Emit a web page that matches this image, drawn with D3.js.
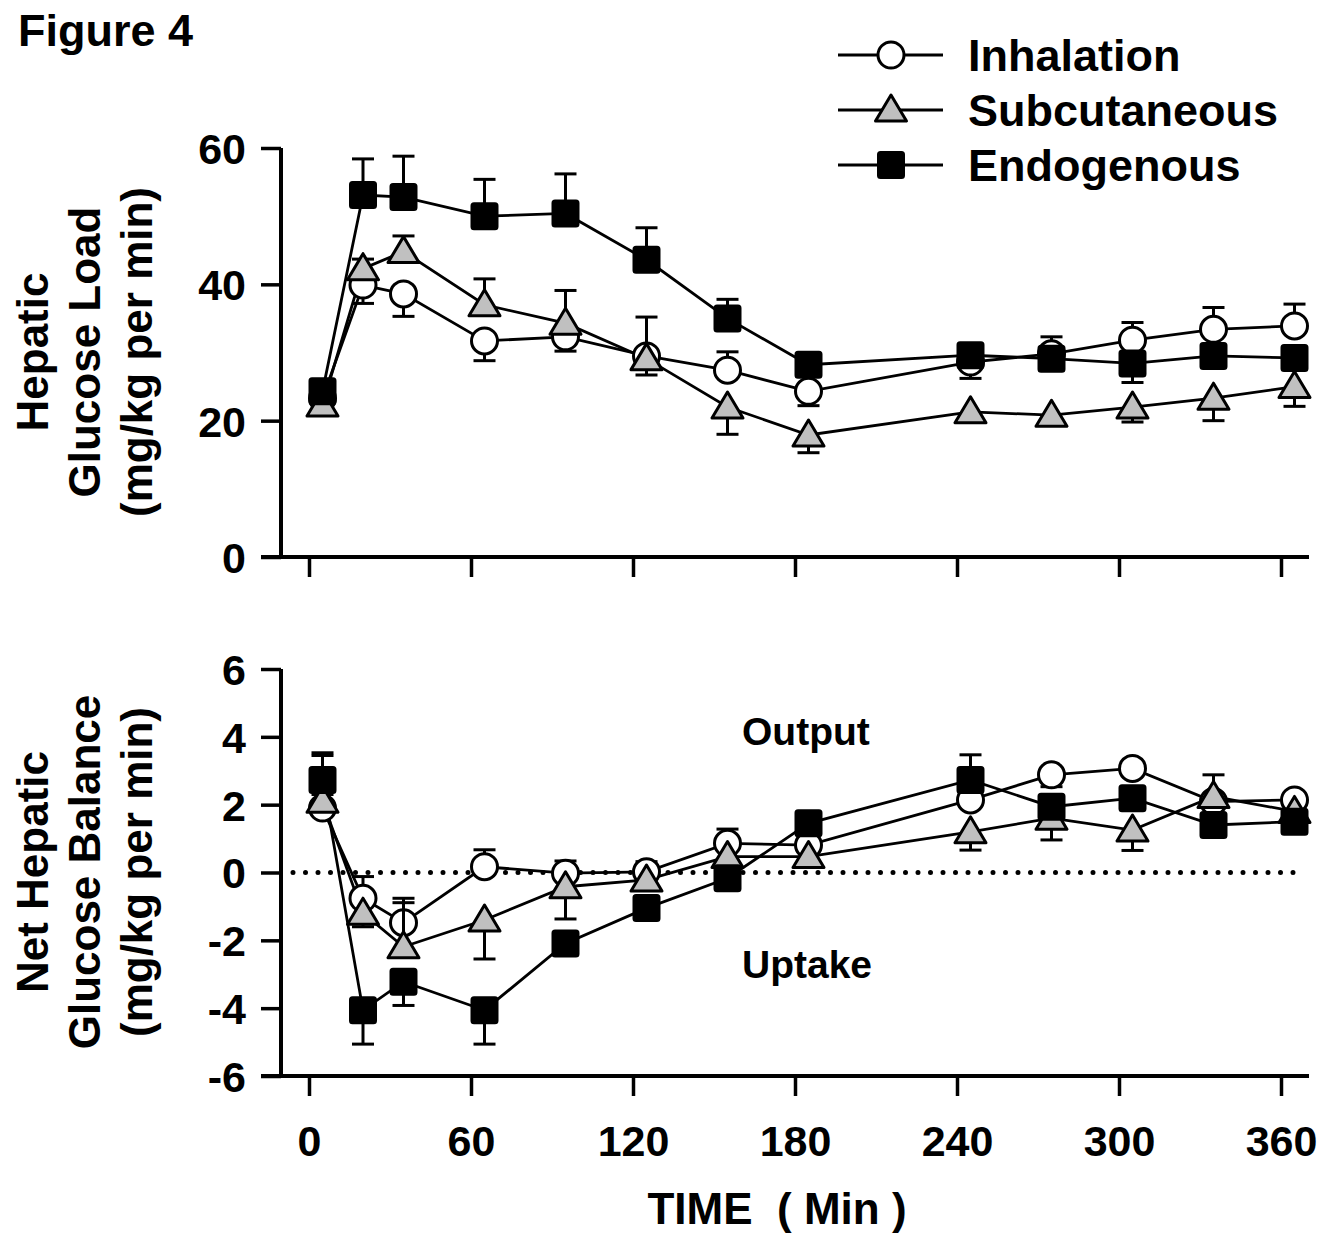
<!DOCTYPE html>
<html>
<head>
<meta charset="utf-8">
<script src="https://cdn.jsdelivr.net/npm/d3@7"></script>
<style>
  html, body { margin: 0; padding: 0; background: #fff; }
  svg { display: block; }
  text { font-family: "Liberation Sans", Arial, Helvetica, sans-serif; font-weight: bold; fill: #000; }
</style>
</head>
<body>
<svg id="chart" width="1320" height="1242"></svg>
<script>
// ---------------- DATA ----------------
const times = [5, 20, 35, 65, 95, 125, 155, 185, 245, 275, 305, 335, 365];
const xTicks = [0, 60, 120, 180, 240, 300, 360];
const loadTicks = [0, 20, 40, 60];
const balanceTicks = [-6, -4, -2, 0, 2, 4, 6];
const seriesNames = ["Inhalation", "Subcutaneous", "Endogenous"];

// Hepatic glucose load (mg/kg per min)
const loadInhalation = [23.3, 39.9, 38.6, 31.7, 32.3, 29.5, 27.4, 24.3, 28.6, 29.8, 31.8, 33.4, 33.9];
const loadInhalationSE = [1.0, 2.7, 3.3, 2.9, 2.1, 2.8, 2.7, 2.1, 2.4, 2.5, 2.6, 3.2, 3.2];
const loadInhalationDir = [-1, -1, -1, -1, -1, -1, 1, -1, -1, 1, 1, 1, 1];
const loadSubcutaneous = [22.3, 42.3, 44.8, 37.0, 34.3, 29.1, 22.0, 17.9, 21.3, 20.8, 22.0, 23.3, 25.0];
const loadSubcutaneousSE = [1.5, 1.4, 2.3, 3.8, 4.8, 6.1, 4.0, 2.6, 0.8, 1.4, 2.2, 3.3, 2.9];
const loadSubcutaneousDir = [-1, 1, 1, 1, 1, 1, -1, -1, -1, -1, -1, -1, -1];
const loadEndogenous = [24.3, 53.1, 52.8, 50.0, 50.4, 43.6, 35.0, 28.2, 29.6, 29.1, 28.4, 29.5, 29.2];
const loadEndogenousSE = [1.0, 5.3, 6.0, 5.4, 5.8, 4.7, 2.8, 0.6, 0.6, 0.6, 2.8, 0.6, 0.6];
const loadEndogenousDir = [1, 1, 1, 1, 1, 1, 1, 1, 1, 1, -1, 1, 1];

// Net hepatic glucose balance (mg/kg per min)
const balInhalation = [1.9, -0.76, -1.48, 0.17, -0.02, 0.02, 0.86, 0.81, 2.14, 2.88, 3.07, 2.09, 2.14];
const balInhalationSE = [1.55, 0.64, 0.72, 0.5, 0.36, 0.3, 0.42, 0.2, 0.2, 0.35, 0.2, 0.2, 0.2];
const balInhalationDir = [1, 1, 1, 1, 1, 1, 1, 1, 1, -1, 1, 1, 1];
const balSubcutaneous = [2.1, -1.2, -2.19, -1.40, -0.42, -0.22, 0.47, 0.47, 1.2, 1.6, 1.25, 2.24, 1.8];
const balSubcutaneousSE = [0.2, 0.4, 1.3, 1.15, 0.95, 0.3, 0.2, 0.2, 0.54, 0.64, 0.6, 0.64, 0.2];
const balSubcutaneousDir = [1, -1, 1, -1, -1, -1, -1, -1, -1, -1, -1, 1, -1];
const balEndogenous = [2.73, -4.06, -3.22, -4.06, -2.09, -1.05, -0.17, 1.45, 2.73, 1.94, 2.19, 1.4, 1.5];
const balEndogenousSE = [0.8, 1.0, 0.7, 1.0, 0.2, 0.2, 0.2, 0.2, 0.74, 0.2, 0.2, 0.2, 0.2];
const balEndogenousDir = [1, -1, -1, -1, 1, 1, 1, 1, 1, 1, 1, 1, 1];

// ---------------- LAYOUT ----------------
const svg = d3.select("#chart");
const FONT = 43;
const x = d3.scaleLinear().domain([0, 360]).range([309, 1281]);
const axisX = 281;          // y-axis position
const tickLen = 20;
const xEnd = 1309;
const yTop = d3.scaleLinear().domain([0, 60]).range([557, 148]);
const yBot = d3.scaleLinear().domain([-6, 6]).range([1076, 669]);
const fmt = d => String(d);   // plain hyphen for negatives, as in the original

const kinds = ["circle", "triangle", "square"];

function marker(g, kind, cx, cy) {
  if (kind === "circle") {
    g.append("circle").attr("cx", cx).attr("cy", cy).attr("r", 13)
      .attr("fill", "#fff").attr("stroke", "#000").attr("stroke-width", 3);
  } else if (kind === "triangle") {
    const p = d3.path();
    p.moveTo(cx, cy - 15); p.lineTo(cx + 15.5, cy + 11); p.lineTo(cx - 15.5, cy + 11); p.closePath();
    g.append("path").attr("d", p.toString()).attr("fill", "#c0c0c0")
      .attr("stroke", "#000").attr("stroke-width", 3).attr("stroke-linejoin", "round");
  } else {
    g.append("rect").attr("x", cx - 12.5).attr("y", cy - 12.5).attr("width", 25).attr("height", 25)
      .attr("rx", 2).attr("fill", "#000").attr("stroke", "#000").attr("stroke-width", 3);
  }
}

function panel(y, ticks, series, showXLabels) {
  const g = svg.append("g");
  // y axis
  const ya = g.append("g").attr("transform", `translate(${axisX},0)`)
    .call(d3.axisLeft(y).tickValues(ticks).tickSize(tickLen).tickPadding(15).tickSizeOuter(0).tickFormat(fmt));
  ya.select(".domain").attr("stroke-width", 4).attr("d", `M0,${y.range()[1]}V${y.range()[0]}`);
  ya.selectAll(".tick line").attr("stroke-width", 3.5);
  ya.selectAll(".tick text").attr("font-size", FONT).attr("dy", "0.36em")
    .attr("font-family", "Liberation Sans, Arial, sans-serif").attr("font-weight", "bold");

  // x axis
  const base = y.range()[0];
  const xa = g.append("g").attr("transform", `translate(0,${base})`)
    .call(d3.axisBottom(x).tickValues(xTicks).tickSize(tickLen).tickSizeOuter(0).tickFormat(showXLabels ? fmt : ""));
  xa.select(".domain").attr("stroke-width", 4).attr("d", `M${axisX - tickLen},0H${xEnd}`);
  xa.selectAll(".tick line").attr("stroke-width", 3.5);
  xa.selectAll(".tick text").attr("font-size", FONT).attr("y", 80).attr("dy", 0)
    .attr("font-family", "Liberation Sans, Arial, sans-serif").attr("font-weight", "bold");

  // zero line
  if (y.domain()[0] < 0) {
    g.append("line").attr("x1", axisX + 12).attr("x2", x(365)).attr("y1", y(0)).attr("y2", y(0))
      .attr("stroke", "#000").attr("stroke-width", 5).attr("stroke-linecap", "round")
      .attr("stroke-dasharray", "0 12.5");
  }

  const line = d3.line().x(d => x(d.t)).y(d => y(d.v));
  // lines
  series.forEach(s => {
    const pts = times.map((t, i) => ({ t, v: s.v[i] }));
    g.append("path").attr("d", line(pts)).attr("fill", "none")
      .attr("stroke", "#000").attr("stroke-width", 2.8);
  });
  // error bars + markers per series
  series.forEach((s, k) => {
    const eg = g.append("g");
    times.forEach((t, i) => {
      const cx = x(t), v = s.v[i], e = s.se[i] * s.dir[i];
      const y1 = y(v), y2 = y(v + e);
      eg.append("line").attr("x1", cx).attr("x2", cx).attr("y1", y1).attr("y2", y2)
        .attr("stroke", "#000").attr("stroke-width", 3);
      eg.append("line").attr("x1", cx - 11).attr("x2", cx + 11).attr("y1", y2).attr("y2", y2)
        .attr("stroke", "#000").attr("stroke-width", 3);
    });
    times.forEach((t, i) => marker(eg, kinds[k], x(t), y(s.v[i])));
  });
  return g;
}

panel(yTop, loadTicks, [
  { v: loadInhalation, se: loadInhalationSE, dir: loadInhalationDir },
  { v: loadSubcutaneous, se: loadSubcutaneousSE, dir: loadSubcutaneousDir },
  { v: loadEndogenous, se: loadEndogenousSE, dir: loadEndogenousDir }
], false);

panel(yBot, balanceTicks, [
  { v: balInhalation, se: balInhalationSE, dir: balInhalationDir },
  { v: balSubcutaneous, se: balSubcutaneousSE, dir: balSubcutaneousDir },
  { v: balEndogenous, se: balEndogenousSE, dir: balEndogenousDir }
], true);

// ---------------- TEXT ----------------
svg.append("text").attr("x", 18).attr("y", 46).attr("font-size", 45).text("Figure 4");

function yTitle(lines, cy) {
  const bases = [48, 100, 152];
  lines.forEach((s, i) => {
    svg.append("text").attr("transform", `translate(${bases[i]},${cy}) rotate(-90)`)
      .attr("text-anchor", "middle").attr("font-size", 44).text(s);
  });
}
yTitle(["Hepatic", "Glucose Load", "(mg/kg per min)"], 352);
yTitle(["Net Hepatic", "Glucose Balance", "(mg/kg per min)"], 872);

svg.append("text").attr("x", 742).attr("y", 745).attr("font-size", 39).text("Output");
svg.append("text").attr("x", 742).attr("y", 978).attr("font-size", 39).text("Uptake");
svg.append("text").attr("x", 777).attr("y", 1224).attr("text-anchor", "middle")
  .attr("font-size", 44).attr("xml:space", "preserve").text("TIME  ( Min )");

// ---------------- LEGEND ----------------
const lg = svg.append("g");
const legendY = [55, 110, 165];
seriesNames.forEach((name, i) => {
  lg.append("line").attr("x1", 838).attr("x2", 943).attr("y1", legendY[i]).attr("y2", legendY[i])
    .attr("stroke", "#000").attr("stroke-width", 2.8);
  marker(lg, kinds[i], 891, legendY[i]);
  lg.append("text").attr("x", 968).attr("y", legendY[i]).attr("dy", "0.36em")
    .attr("font-size", 45).text(name);
});
</script>
</body>
</html>
